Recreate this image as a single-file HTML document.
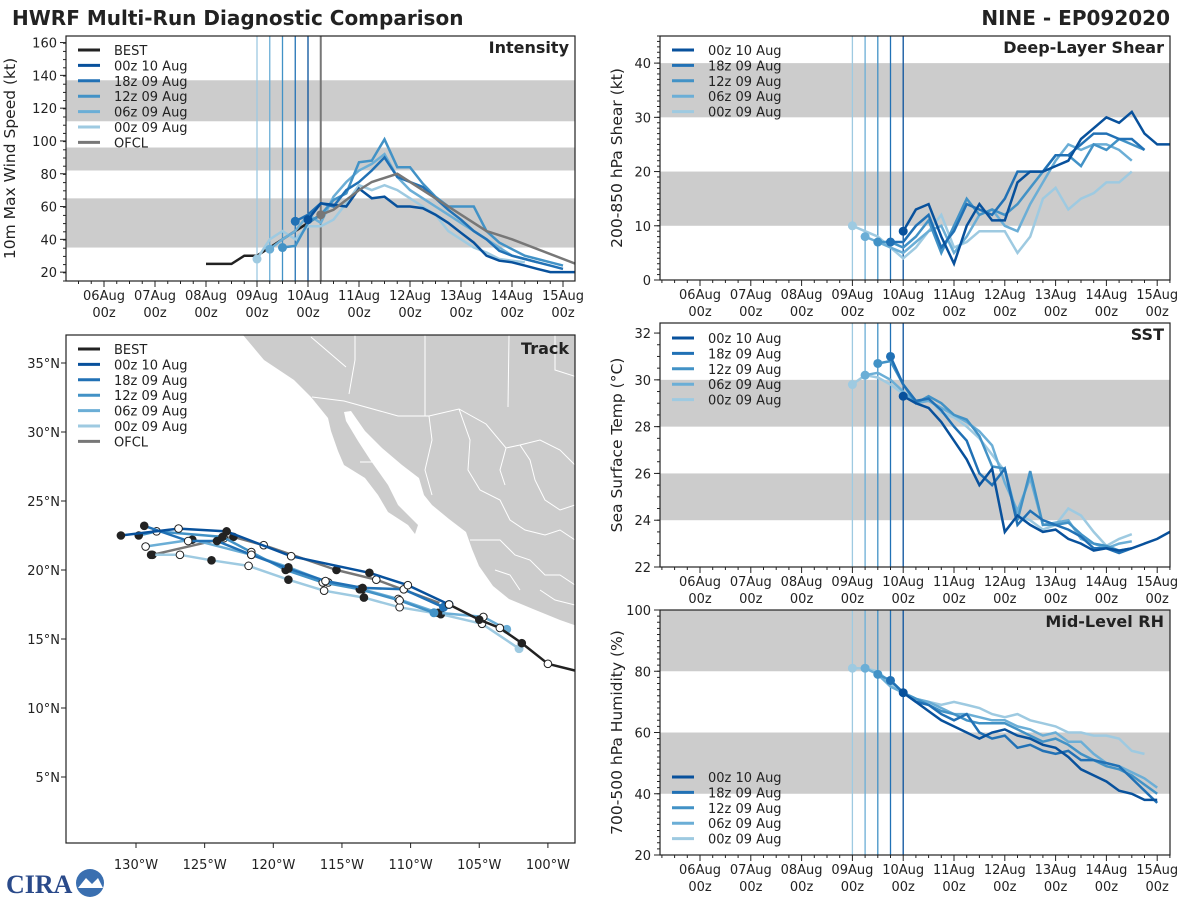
<!DOCTYPE html>
<html><head><meta charset="utf-8"><style>
html,body{margin:0;padding:0;background:#fff;}
svg{display:block;font-family:"DejaVu Sans","Liberation Sans",sans-serif;}
</style></head><body>
<svg id="fig" width="1200" height="900" viewBox="0 0 1200 900" xmlns="http://www.w3.org/2000/svg">
<text x="12" y="25" font-size="20" font-weight="bold" fill="#222">HWRF Multi-Run Diagnostic Comparison</text>
<text x="1170" y="25" font-size="20" font-weight="bold" fill="#222" text-anchor="end">NINE - EP092020</text>
<g>
<text x="6" y="893" font-size="26" font-weight="bold" fill="#2a4a8a" font-family="Liberation Serif,serif">CIRA</text>
<circle cx="90" cy="883" r="14" fill="#3a6fb0"/>
<path d="M78 888 L86 878 L92 884 L98 878 L103 888 Z" fill="#fff"/>
</g>
</svg>
<script>
// ---------- data ----------
const runNames = ["00z 10 Aug","18z 09 Aug","12z 09 Aug","06z 09 Aug","00z 09 Aug"];
const runColors = ["#08519c","#2171b5","#4292c6","#6baed6","#9ecae1"];
const runStarts = [4, 3.75, 3.5, 3.25, 3]; // days since 06Aug 00z
const dayLabels = ["06Aug","07Aug","08Aug","09Aug","10Aug","11Aug","12Aug","13Aug","14Aug","15Aug"];

const bestStart = 2;
const bestVmax = [25,25,25,30,30,35,40,45,50,55];
const ofclDays = [4.25,4.5,5,5.25,5.75,6.5,7,7.5,8,9.25];
const ofclVmax = [55,58,70,75,80,65,55,45,40,25];
const vmax00z10 = [52,62,61,60,71,65,66,60,60,59,55,50,44,38,30,27,26,24,22,20,20,20,20];
const vmax18z09 = [51,55,62,60,70,75,82,90,78,75,72,65,58,52,45,40,33,30,28,26,24,22];
const vmax12z09 = [35,36,50,55,64,68,87,88,101,84,84,74,66,60,60,60,45,38,34,30,28,26,24];
const vmax06z09 = [34,40,45,55,50,66,75,82,86,92,78,70,65,60,55,50,45,40,35,30,28,26];
const vmax00z09 = [28,40,45,40,48,48,52,62,73,70,73,70,65,60,55,45,40,35,32,28,27,26];

const shr00z10 = [9,13,14,8,3,10,14,11,11,18,20,20,21,22,26,28,30,29,31,27,25,25,24];
const shr18z09 = [7,7,10,12,6,9,14,13,12,15,20,20,20,23,23,25,27,27,26,26,24];
const shr12z09 = [7,7,6,8,11,5,10,15,12,13,12,14,17,20,23,23,21,25,24,26,25,24];
const shr06z09 = [8,7,6,5,7,9,10,5,8,12,13,10,9,14,18,22,25,24,25,25,24,22];
const shr00z09 = [10,9,8,6,4,6,9,12,6,7,9,9,9,5,8,15,17,13,15,16,18,18,20];

const sst00z10 = [29.3,29.0,28.8,28.2,27.4,26.6,25.5,26.2,23.5,24.2,23.8,23.5,23.6,23.2,23.0,22.7,22.8,22.7,22.8,23.0,23.2,23.5];
const sst18z09 = [31.0,29.8,29.1,29.2,28.7,28.0,27.4,26.0,25.5,26.2,23.8,24.4,24.0,23.8,23.6,23.3,22.8,22.8,22.6,22.8];
const sst12z09 = [30.7,30.8,29.8,29.0,29.3,29.0,28.5,28.3,27.6,26.3,26.2,24.0,26.1,23.8,23.8,23.9,23.4,23.0,22.9,22.7,22.8];
const sst06z09 = [30.2,30.3,30.0,29.5,29.0,29.1,28.8,28.5,28.2,27.8,27.2,25.6,24.4,25.8,23.8,23.9,24.0,23.2,23.0,22.8,23.0,23.1];
const sst00z09 = [29.8,30.2,30.1,29.8,29.4,29.0,29.2,28.6,28.4,28.0,27.5,26.8,26.1,24.2,24.0,23.6,23.8,24.5,24.2,23.5,22.9,23.2,23.4];

const rh00z10 = [73,70,67,64,62,60,58,60,61,59,58,56,55,52,48,46,44,41,40,38,38];
const rh18z09 = [77,73,70,69,66,64,66,60,58,59,55,56,54,53,54,51,51,50,49,45,41,37];
const rh12z09 = [79,77,73,71,69,67,66,64,63,63,63,61,59,57,58,56,53,51,49,48,46,43,40];
const rh06z09 = [81,79,75,73,71,70,68,66,66,65,64,64,62,61,59,60,57,57,53,50,49,47,45,42];
const rh00z09 = [81,81,80,76,73,71,70,69,70,69,68,66,65,66,64,63,62,60,60,59,59,58,54,53];

// track data: [lon(W), lat]
const trkBest = [[98.0,12.7],[100.0,13.2],[101.9,14.7],[103.5,15.8],[105.0,16.4],[107.2,17.5]];
const trkOfcl = [[107.9,17.6],[112.5,19.3],[115.4,20.0],[120.7,21.8],[122.9,22.4],[123.6,22.3],[128.8,21.1]];
const trk00z10 = [[107.2,17.5],[110.2,18.9],[113.0,19.8],[118.7,21.0],[123.4,22.8],[126.9,23.0],[131.1,22.5]];
const trk18z09 = [[107.6,17.3],[110.5,18.6],[113.5,18.7],[116.2,19.2],[118.9,20.1],[121.6,21.1],[124.1,22.1],[126.2,22.1],[129.4,23.2]];
const trk12z09 = [[108.3,16.9],[110.8,17.8],[113.7,18.6],[116.4,19.1],[119.1,20.0],[121.6,21.3],[123.7,22.4],[128.5,22.8],[129.8,22.5]];
const trk06z09 = [[103.0,15.7],[104.7,16.6],[108.0,16.9],[110.9,17.9],[113.5,18.6],[116.0,19.1],[118.9,20.2],[121.6,21.1],[125.9,22.2],[129.3,21.7]];
const trk00z09 = [[102.1,14.3],[104.8,16.1],[107.8,16.8],[110.8,17.3],[113.4,18.0],[116.3,18.5],[118.9,19.3],[121.8,20.3],[124.5,20.7],[126.8,21.1],[128.9,21.1]];

// ---------- helpers ----------
const NS="http://www.w3.org/2000/svg";
const svg=document.getElementById('fig');
const defs=document.createElementNS(NS,'defs');svg.appendChild(defs);
let clipN=0;
function mk(tag,attrs,parent){const e=document.createElementNS(NS,tag);for(const k in attrs)e.setAttribute(k,attrs[k]);(parent||svg).appendChild(e);return e;}
function txt(s,attrs,parent){const e=mk('text',attrs,parent);e.textContent=s;return e;}
function pts(a){return a.map(p=>p[0].toFixed(1)+','+p[1].toFixed(1)).join(' ');}
function clip(L,T,W,H){const id='clip'+(clipN++);const c=mk('clipPath',{id:id},defs);mk('rect',{x:L,y:T,width:W,height:H},c);return 'url(#'+id+')';}

function panel(cfg){
  const g=mk('g',{});
  
  
  const L=cfg.L,R=cfg.R,T=cfg.T,B=cfg.B;
  const xs=d=>cfg.x0+d*cfg.dx;
  const ys=v=>B-(v-cfg.ymin)/(cfg.ymax-cfg.ymin)*(B-T);
  const cg=mk('g',{'clip-path':clip(L,T,R-L,B-T)},g);
  cfg.bands.forEach(b=>{
    const r=mk('rect',{x:L,y:ys(b[1]),width:R-L,height:ys(b[0])-ys(b[1]),fill:'#cccccc'},cg);
    
    
  });
  for(let i=runStarts.length-1;i>=0;i--){
    mk('line',{x1:xs(runStarts[i]),x2:xs(runStarts[i]),y1:T,y2:B,stroke:runColors[i],'stroke-width':1.3},cg);
  }
  if(cfg.ofclLine!==undefined) mk('line',{x1:xs(cfg.ofclLine),x2:xs(cfg.ofclLine),y1:T,y2:B,stroke:'#777','stroke-width':2},cg);
  if(cfg.best){
    const p=mk('polyline',{points:pts(cfg.best.map((v,k)=>[xs(bestStart+k*0.25),ys(v)])),fill:'none',stroke:'#222','stroke-width':2.5},cg);
    
    
  }
  for(let i=runStarts.length-1;i>=0;i--){
    const s=cfg.series[i];
    const p=mk('polyline',{points:pts(s.map((v,k)=>[xs(runStarts[i]+k*0.25),ys(v)])),fill:'none',stroke:runColors[i],'stroke-width':2.5},cg);
    
    
    const c=mk('circle',{cx:xs(runStarts[i]),cy:ys(s[0]),r:4.5,fill:runColors[i]},cg);
    
    
  }
  if(cfg.ofcl){
    const p=mk('polyline',{points:pts(ofclVmax.map((v,k)=>[xs(ofclDays[k]),ys(v)])),fill:'none',stroke:'#777','stroke-width':2.5},cg);
    
    
    mk('circle',{cx:xs(ofclDays[0]),cy:ys(ofclVmax[0]),r:4.5,fill:'#777'},cg);
  }
  mk('rect',{x:L,y:T,width:R-L,height:B-T,fill:'none',stroke:'#222','stroke-width':1.2},g);
  for(let d=-0.75;d<=9.3;d+=0.25){
    const x=xs(d); if(x<L||x>R)continue;
    const major=Math.abs(d-Math.round(d))<1e-6;
    mk('line',{x1:x,x2:x,y1:B,y2:B+(major?6:3),stroke:'#222','stroke-width':1},g);
  }
  dayLabels.forEach((s,k)=>{
    const t1=txt(s,{x:xs(k),y:B+19,'font-size':13,fill:'#222','text-anchor':'middle'},g);
    
    
    txt('00z',{x:xs(k),y:B+36,'font-size':13,fill:'#222','text-anchor':'middle'},g);
  });
  for(let v=cfg.ymin;v<=cfg.ymax+1e-6;v+=cfg.minor){
    const y=ys(v);
    mk('line',{x1:L,x2:L-3,y1:y,y2:y,stroke:'#222','stroke-width':1},g);
  }
  cfg.yticks.forEach(v=>{
    const y=ys(v);
    mk('line',{x1:L,x2:L-6,y1:y,y2:y,stroke:'#222','stroke-width':1},g);
    const t=txt(String(v),{x:L-9,y:y+5,'font-size':13,fill:'#222','text-anchor':'end'},g);
    
    
  });
  const yl=txt(cfg.ylabel,{x:0,y:0,'font-size':15.5,fill:'#222','text-anchor':'middle',transform:`translate(${cfg.ylx},${(T+B)/2}) rotate(-90)`},g);
  
  
  const tt=txt(cfg.title,{x:R-6,y:T+17,'font-size':16,'font-weight':'bold',fill:'#222','text-anchor':'end'},g);
  
  
  legend(g,L+10,cfg.legY,cfg.withBest);
}
function legend(g,x,y,withBest){
  const items=[];
  if(withBest)items.push(['BEST','#222']);
  runNames.forEach((n,i)=>items.push([n,runColors[i]]));
  if(withBest)items.push(['OFCL','#777']);
  const lg=mk('g',{},g);
  
  
  items.forEach((it,k)=>{
    const yy=y+k*15.4;
    mk('line',{x1:x+2,x2:x+24,y1:yy,y2:yy,stroke:it[1],'stroke-width':3},lg);
    const t=txt(it[0],{x:x+38,y:yy+5,'font-size':13,fill:'#222'},lg);
    
    
  });
}

panel({name:'intensity-panel',L:66,R:575,T:36,B:281,x0:104,dx:51,ymin:14.6,ymax:164,minor:5,yticks:[20,40,60,80,100,120,140,160],
  bands:[[35,65],[82,96],[112,137]],ofclLine:4.25,best:bestVmax,ofcl:true,
  series:[vmax00z10,vmax18z09,vmax12z09,vmax06z09,vmax00z09],ylabel:'10m Max Wind Speed (kt)',ylx:15,title:'Intensity',legY:50,withBest:true});
panel({name:'shear-panel',L:660,R:1170,T:36,B:280,x0:700,dx:50.8,ymin:0,ymax:45,minor:1,yticks:[0,10,20,30,40],
  bands:[[10,20],[30,40]],series:[shr00z10,shr18z09,shr12z09,shr06z09,shr00z09],ylabel:'200-850 hPa Shear (kt)',ylx:622,title:'Deep-Layer Shear',legY:50,withBest:false});
panel({name:'sst-panel',L:660,R:1170,T:323,B:567,x0:700,dx:50.8,ymin:22,ymax:32.43,minor:0.5,yticks:[22,24,26,28,30,32],
  bands:[[24,26],[28,30]],series:[sst00z10,sst18z09,sst12z09,sst06z09,sst00z09],ylabel:'Sea Surface Temp (°C)',ylx:622,title:'SST',legY:338,withBest:false});
panel({name:'rh-panel',L:660,R:1170,T:610,B:855,x0:700,dx:50.8,ymin:20,ymax:100,minor:2,yticks:[20,40,60,80,100],
  bands:[[40,60],[80,100]],series:[rh00z10,rh18z09,rh12z09,rh06z09,rh00z09],ylabel:'700-500 hPa Humidity (%)',ylx:622,title:'Mid-Level RH',legY:777,withBest:false});

// ---------- track panel ----------
(function(){
  const L=66,R=575,T=335,B=843;
  const lx=w=>136+(130-w)*13.73;
  const ly=l=>363+(35-l)*13.8;
  const g=mk('g',{});
  
  
  const cg=mk('g',{'clip-path':clip(L,T,R-L,B-T)},g);
  const land=mk('path',{d:'M241,330 L243,335 L264,360 L294,380 L311,397 L328,418 L331,431 L338,451 L344,465 L365,478 L378,495 L388,512 L408,525 L415,534 L418,525 L398,505 L388,485 L371,461 L358,441 L346,421 L344,412 L351,411 L365,431 L382,448 L402,465 L419,478 L424,495 L432,505 L449,519 L466,532 L472,549 L479,566 L493,586 L509,599 L533,609 L560,620 L580,627 L580,330 Z',fill:'#cccccc'},cg);
  
  
  const borders=mk('path',{d:'M312,397 L344,401 L398,416 L429,416 L459,409 L486,424 L506,448 L520,445 L540,440 L560,450 L580,470 M311,337 L346,367 M355,335 L355,360 L349,394 M425,335 L425,416 M509,335 L508,407 M555,335 L555,370 L580,378 M360,462 L378,462 M429,416 L432,440 L425,470 L432,495 M459,409 L470,440 L468,470 L480,490 L500,500 L510,520 L525,530 L545,535 L560,530 L575,540 M506,448 L500,470 L505,485 M520,445 L530,460 L535,480 L545,500 L560,510 L575,505 M470,540 L500,540 L515,555 L530,560 L545,575 L560,575 L575,585 M495,570 L510,575 L520,590 M540,590 L555,600 L575,605',fill:'none',stroke:'#fff','stroke-width':1},cg);
  
  
  const tracks=[[trkOfcl,'#777'],[trk00z09,runColors[4]],[trk06z09,runColors[3]],[trk12z09,runColors[2]],[trk18z09,runColors[1]],[trk00z10,runColors[0]],[trkBest,'#222']];
  tracks.forEach(([t,c])=>{
    const p=mk('polyline',{points:pts(t.map(q=>[lx(q[0]),ly(q[1])])),fill:'none',stroke:c,'stroke-width':2.5,'stroke-linejoin':'round'},cg);
    
    
    t.forEach((q,k)=>{
      if(k===0 && c!=='#222' && c!=='#777'){mk('circle',{cx:lx(q[0]),cy:ly(q[1]),r:4.5,fill:c},cg);return;}
      if(k===0) return;
      const open=k%2===1;
      const m=mk('circle',{cx:lx(q[0]),cy:ly(q[1]),r:3.8,fill:open?'#fff':'#222',stroke:'#222','stroke-width':1},cg);
      
      
    });
  });
  mk('rect',{x:L,y:T,width:R-L,height:B-T,fill:'none',stroke:'#222','stroke-width':1.2},g);
  [130,125,120,115,110,105,100].forEach(w=>{
    const x=lx(w);
    mk('line',{x1:x,x2:x,y1:B,y2:B+5,stroke:'#222'},g);
    const t=txt(w+'°W',{x:x,y:B+26,'font-size':13,fill:'#222','text-anchor':'middle'},g);
    
    
  });
  [35,30,25,20,15,10,5].forEach(l=>{
    const y=ly(l);
    mk('line',{x1:L,x2:L-5,y1:y,y2:y,stroke:'#222'},g);
    const t=txt(l+'°N',{x:L-6,y:y+5,'font-size':13,fill:'#222','text-anchor':'end'},g);
    
    
  });
  const tt=txt('Track',{x:R-6,y:T+19,'font-size':16,'font-weight':'bold',fill:'#222','text-anchor':'end'},g);
  
  
  legend(g,L+10,T+14,true);
})();
</script>
</body></html>
